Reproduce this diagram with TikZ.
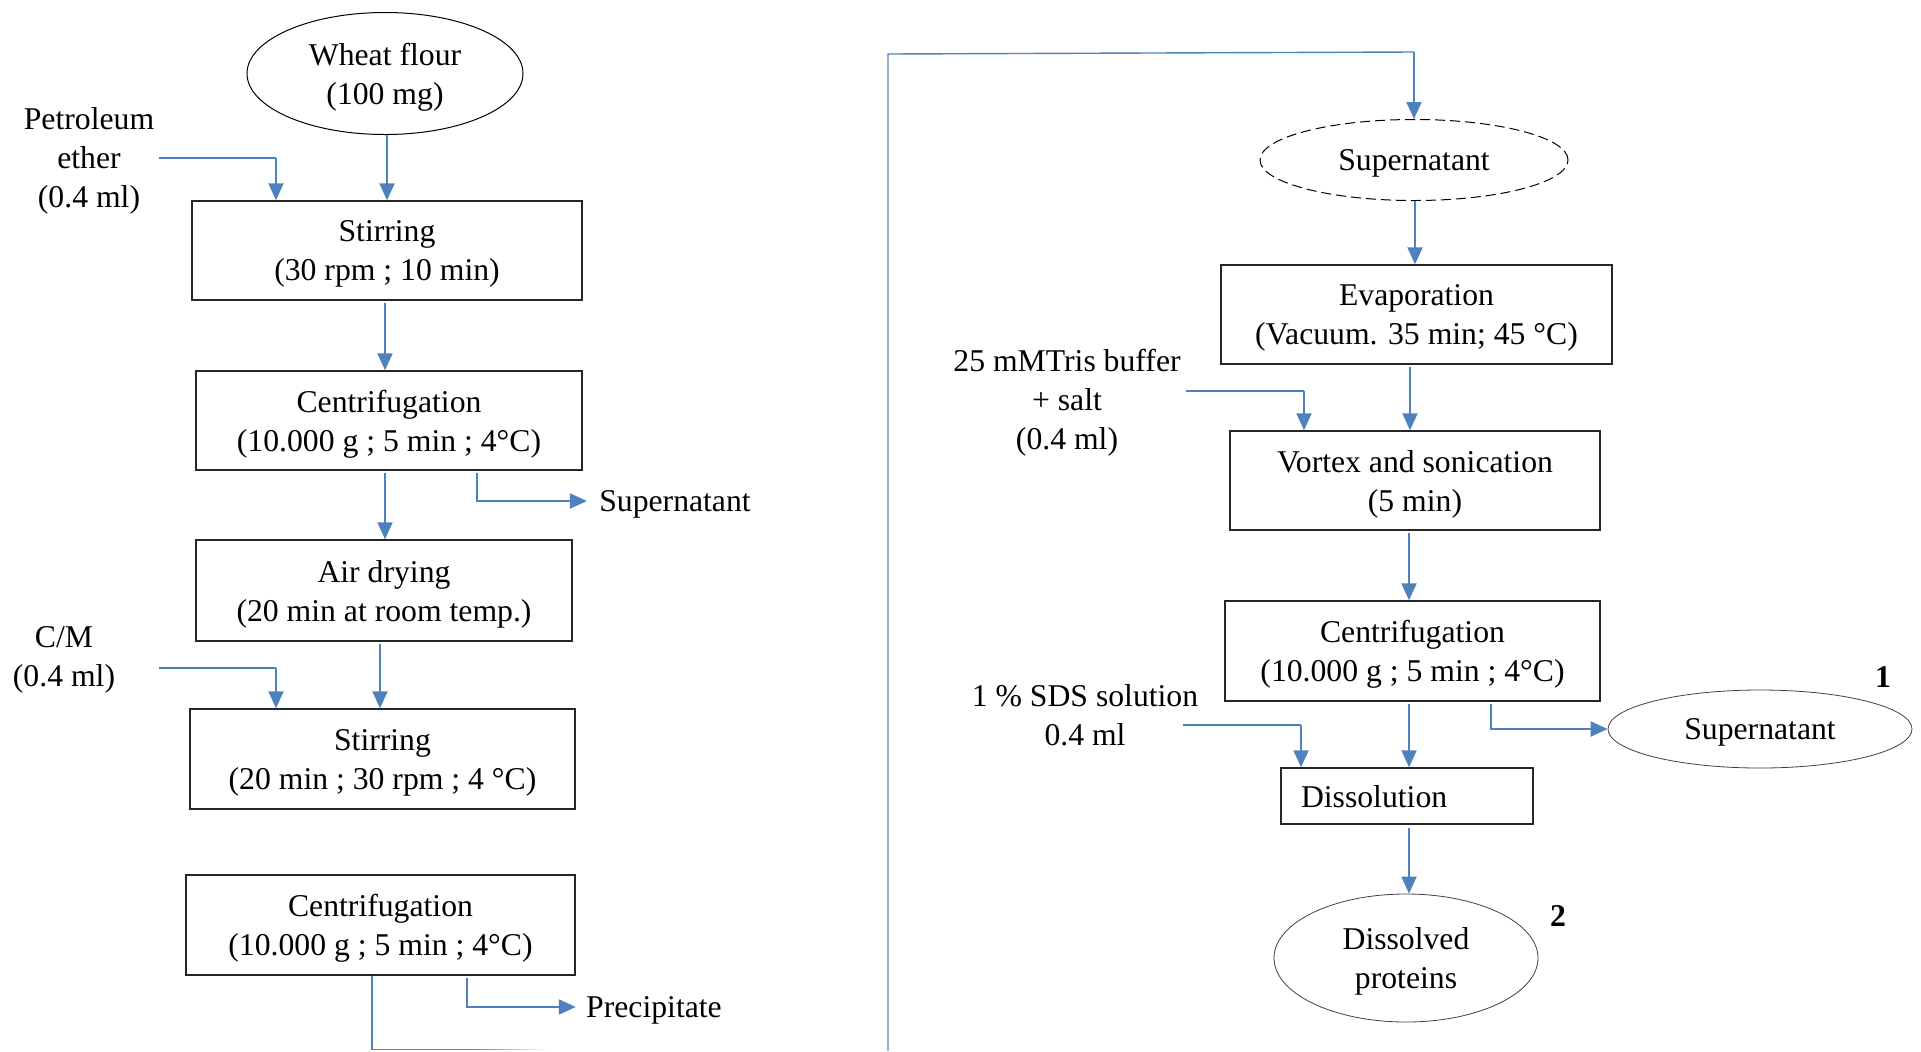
\documentclass[tikz,border=0pt]{standalone}
\usepackage{fontspec}
\setmainfont{Liberation Serif}
\usetikzlibrary{arrows.meta,shapes.geometric}
\definecolor{lineblue}{RGB}{79,129,189}
\begin{document}
\begin{tikzpicture}[x=0.5pt,y=-0.5pt,
  every node/.style={font=\fontsize{15.85}{19.5}\selectfont, align=center, inner sep=0pt, text depth=0pt},
  box/.style={draw=black!85, line width=0.7pt, rectangle},
  oval/.style={draw=black, line width=0.5pt, ellipse},
  thinoval/.style={draw=black!75, line width=0.4pt, ellipse},
  arr/.style={draw=lineblue, line width=1pt, -{Triangle[length=8.5pt,width=7.5pt]}},
  ln/.style={draw=lineblue, line width=0.7pt},
  num/.style={font=\fontsize{15.85}{19.5}\selectfont\bfseries}
]
\useasboundingbox (0,0) rectangle (1921,1051);

% ---------- left column ----------
\node[oval, minimum width=138pt, minimum height=61pt] (wheat) at (385,73.5) {Wheat flour\\(100 mg)};
\node (petro) at (89,157) {Petroleum\\ether\\(0.4 ml)};
\node[box, minimum width=195pt, minimum height=49.5pt] (stir1) at (387,250.5) {Stirring\\(30 rpm ; 10 min)};
\node[box, minimum width=193pt, minimum height=49.5pt] (cen1) at (389,420.5) {Centrifugation\\(10.000 g ; 5 min ; 4°C)};
\node (sup1) at (675,501) {Supernatant};
\node[box, minimum width=188pt, minimum height=50.5pt] (air) at (384,590.5) {Air drying\\(20 min at room temp.)};
\node (cm) at (64,656.5) {C/M\\(0.4 ml)};
\node[box, minimum width=192.5pt, minimum height=50pt] (stir2) at (382.5,759) {Stirring\\(20 min ; 30 rpm ; 4 °C)};
\node[box, minimum width=194.5pt, minimum height=50pt] (cen2) at (380.5,925) {Centrifugation\\(10.000 g ; 5 min ; 4°C)};
\node (prec) at (654,1007) {Precipitate};

\coordinate (pin1) at (159,158);
\coordinate (pin2) at (159,668);

\draw[arr] (wheat.south -| 387,0) -- (stir1.north -| 387,0);
\draw[ln] (pin1) -- (276,158);
\draw[arr] (276,158) -- (stir1.north -| 276,0);
\draw[arr] ([yshift=-1pt]stir1.south -| 385,0) -- (cen1.north -| 385,0);
\draw[arr] ([yshift=-1pt]cen1.south -| 477,0) |- ([xshift=-6pt]sup1.west);
\draw[arr] ([yshift=-1pt]cen1.south -| 385,0) -- (air.north -| 385,0);
\draw[arr] ([yshift=-1pt]air.south -| 380,0) -- (stir2.north -| 380,0);
\draw[ln] (pin2) -- (276,668);
\draw[arr] (276,668) -- (stir2.north -| 276,0);
\draw[arr] ([yshift=-1pt]cen2.south -| 467,0) |- ([xshift=-5pt]prec.west);

\coordinate (lb) at (372,1049.5);
\coordinate (lf) at (470,1049.5);
\draw[ln] (cen2.south -| 372,0) -- (lb) -- (lf);
\foreach \i in {0,...,9}{
  \pgfmathsetmacro{\op}{1-(\i+0.5)/10}
  \draw[ln, draw opacity=\op, line cap=butt] (470+8*\i,1049.5) -- (478+8*\i,1049.5);
}

% ---------- right column ----------
\coordinate (rb) at (888,1051);
\coordinate (rt) at (888,54);
\node[oval, dashed, dash pattern=on 5pt off 2.5pt, minimum width=154pt, minimum height=40.5pt] (supd) at (1414,160) {Supernatant};
\draw[ln] (rb) -- (rt) -- (1414,52);
\draw[arr] (1414,52) -- (supd.north);

\node[box, minimum width=195.5pt, minimum height=49.5pt] (evap) at (1416.5,314.5) {Evaporation\\(Vacuum. 35 min; 45 °C)};
\node (tris) at (1067,399) {25 mMTris buffer\\+ salt\\(0.4 ml)};
\node[box, minimum width=185pt, minimum height=49.5pt] (vort) at (1415,480.5) {Vortex and sonication\\(5 min)};
\node[box, minimum width=187.5pt, minimum height=50pt] (cen3) at (1412.5,651) {Centrifugation\\(10.000 g ; 5 min ; 4°C)};
\node (sds) at (1085,715) {1 \% SDS solution\\0.4 ml};
\node[thinoval, minimum width=152pt, minimum height=39pt] (sup2) at (1760,729) {Supernatant};
\node[num] (n1) at (1883,677) {1};
\node[box, minimum width=126pt, minimum height=28pt, text width=106pt, inner xsep=10pt, align=left] (diss) at (1407,796) {Dissolution};
\node[thinoval, minimum width=132pt, minimum height=64pt] (dprot) at (1406,958) {Dissolved\\proteins};
\node[num] (n2) at (1558,916) {2};

\coordinate (pin3) at (1186,391);
\coordinate (pin4) at (1183,725);

\draw[arr] (supd.south -| 1415,0) -- (evap.north -| 1415,0);
\draw[arr] ([yshift=-1pt]evap.south -| 1410,0) -- (vort.north -| 1410,0);
\draw[ln] (pin3) -- (1304,391);
\draw[arr] (1304,391) -- (vort.north -| 1304,0);
\draw[arr] ([yshift=-1pt]vort.south -| 1409,0) -- (cen3.north -| 1409,0);
\draw[arr] ([yshift=-1pt]cen3.south -| 1491,0) |- (sup2.west);
\draw[ln] (pin4) -- (1301,725);
\draw[arr] (1301,725) -- (diss.north -| 1301,0);
\draw[arr] ([yshift=-1pt]cen3.south -| 1409,0) -- (diss.north -| 1409,0);
\draw[arr] ([yshift=-1.5pt]diss.south -| 1409,0) -- (dprot.north -| 1409,0);
\end{tikzpicture}
\end{document}
